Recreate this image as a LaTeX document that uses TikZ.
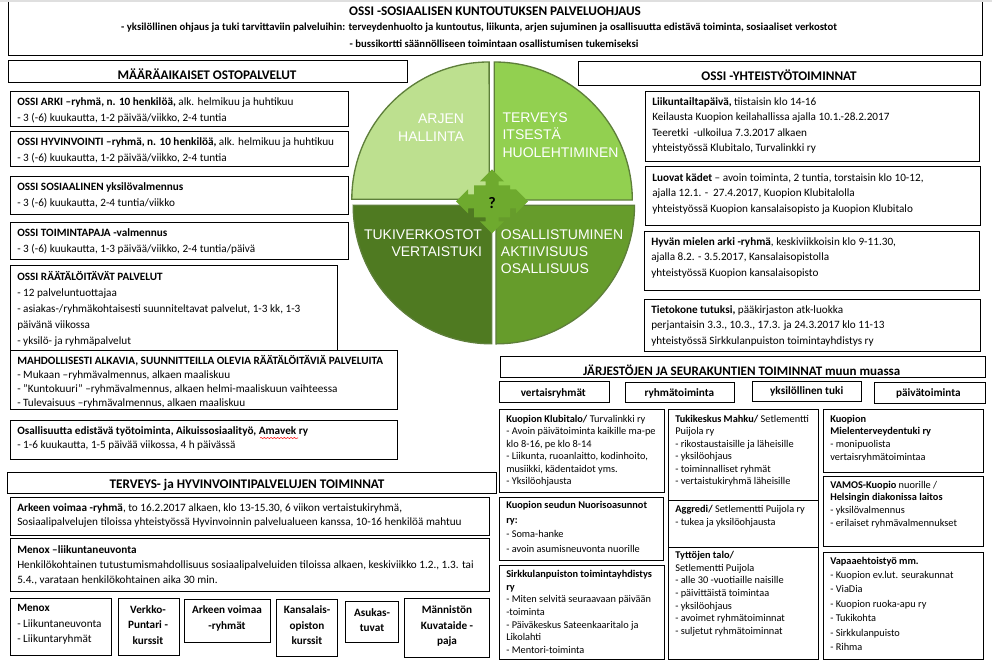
\documentclass[tikz,border=0pt]{standalone}
\usepackage{fontspec}
\setmainfont{Carlito}
\newfontfamily\quadfont{Liberation Sans}
\usetikzlibrary{decorations.pathmorphing}
\definecolor{quadA}{HTML}{BDE08F}
\definecolor{quadB}{HTML}{92D050}
\definecolor{quadC}{HTML}{4F7A21}
\definecolor{quadD}{HTML}{669C2B}
\definecolor{quadrim}{HTML}{5E7F3A}
\definecolor{puzzle}{HTML}{6EAA2E}
\tikzset{
  boxline/.style={draw=black,line width=0.75pt},
  txt/.style={anchor=north west,inner sep=0pt,align=left,font=\fontsize{8.4}{#1}\selectfont},
  txtsmall/.style={anchor=north west,inner sep=0pt,align=left,font=\fontsize{7.75}{#1}\selectfont},
  ctxt/.style={anchor=north,inner sep=0pt,align=center,font=\bfseries\fontsize{8.4}{#1}\selectfont},
  head/.style={anchor=center,inner sep=0pt,font=\bfseries\fontsize{9.9}{12}\selectfont},
  lead/.style={anchor=center,inner sep=0pt,font=\bfseries\fontsize{8.05}{10}\selectfont},
  tab/.style={anchor=center,inner sep=0pt,font=\bfseries\fontsize{8.4}{10}\selectfont},
  quad/.style={draw=quadrim,line width=1pt},
  quadtxt/.style={inner sep=0pt,text=white,font=\quadfont\fontsize{10.5}{13}\selectfont}
}
\begin{document}
\begin{tikzpicture}[x=0.75pt,y=-0.75pt]
  \useasboundingbox (0,0) rectangle (992,662);
  \fill[gray!25] (0,0) rectangle (992,1.5);
  \draw[boxline] (8,2) -- (8,55) -- (982,55) -- (982,2);
  \node[head] (ossititle) at (495,11) {OSSI -SOSIAALISEN KUNTOUTUKSEN PALVELUOHJAUS};
  \node[lead] (ossiline) at (479,28) {- yksilöllinen ohjaus ja tuki tarvittaviin palveluihin: terveydenhuolto ja kuntoutus, liikunta, arjen sujuminen ja osallisuutta edistävä toiminta, sosiaaliset verkostot};
  \node[lead] (ossibus) at (494,44) {- bussikortti säännölliseen toimintaan osallistumisen tukemiseksi};

  \draw[boxline] (8,60.5) rectangle (407.5,82);
  \node[head] (ostot) at (207,74) {MÄÄRÄAIKAISET OSTOPALVELUT};
  \draw[boxline] (10.5,91.5) rectangle (348,126);
  \node[txt=12] (arki) at (17,97) {\textbf{OSSI ARKI –ryhmä, n. 10 henkilöä,} alk. helmikuu ja huhtikuu\\- 3 (-6) kuukautta, 1-2 päivää/viikko, 2-4 tuntia};
  \draw[boxline] (10.5,131.5) rectangle (348,166);
  \node[txt=12] (hyvinvointi) at (17,137) {\textbf{OSSI HYVINVOINTI –ryhmä, n. 10 henkilöä,} alk. helmikuu ja huhtikuu\\- 3 (-6) kuukautta, 1-2 päivää/viikko, 2-4 tuntia};
  \draw[boxline] (10.5,176.5) rectangle (348,214);
  \node[txt=12] (sosiaalinen) at (17,182) {\textbf{OSSI SOSIAALINEN yksilövalmennus}\\- 3 (-6) kuukautta, 2-4 tuntia/viikko};
  \draw[boxline] (10.5,222) rectangle (348,259.3);
  \node[txt=12] (toimintapaja) at (17,228) {\textbf{OSSI TOIMINTAPAJA -valmennus}\\- 3 (-6) kuukautta, 1-3 päivää/viikko, 2-4 tuntia/päivä};
  \draw[boxline] (10,265.7) rectangle (337.7,350);
  \node[txt=12] (raatalo) at (17,271.5) {\textbf{OSSI RÄÄTÄLÖITÄVÄT PALVELUT}\\- 12 palveluntuottajaa\\- asiakas-/ryhmäkohtaisesti suunniteltavat palvelut, 1-3 kk, 1-3\\päivänä viikossa\\- yksilö- ja ryhmäpalvelut};
  \draw[boxline] (10,350) rectangle (397.7,409.5);
  \node[txt=10.5] (mahdolliset) at (17,355.5) {\textbf{MAHDOLLISESTI ALKAVIA, SUUNNITTEILLA OLEVIA RÄÄTÄLÖITÄVIÄ PALVELUITA}\\- Mukaan –ryhmävalmennus, alkaen maaliskuu\\- ”Kuntokuuri” –ryhmävalmennus, alkaen helmi-maaliskuun vaihteessa\\- Tulevaisuus –ryhmävalmennus, alkaen maaliskuu};
  \draw[boxline] (10,420.3) rectangle (397.7,459);
  \node[txt=10.5] (tyotoiminta) at (17,426.5) {\textbf{Osallisuutta edistävä työtoiminta, Aikuissosiaalityö, Amavek ry}\\- 1-6 kuukautta, 1-5 päivää viikossa, 4 h päivässä};
  \draw[red,decorate,decoration={snake,amplitude=0.4pt,segment length=2.5pt}] (260,438) -- (298,438);

  \draw[boxline] (7.3,472.3) rectangle (496.7,493.3);
  \node[head] (terveys) at (247,485) {TERVEYS- ja HYVINVOINTIPALVELUJEN TOIMINNAT};
  \draw[boxline] (10,497.3) rectangle (489.7,535);
  \node[txt=10.5] (voimaa) at (17,503) {\textbf{Arkeen voimaa -ryhmä}, to 16.2.2017 alkaen, klo 13-15.30, 6 viikon vertaistukiryhmä,\\Sosiaalipalvelujen tiloissa yhteistyössä Hyvinvoinnin palvelualueen kanssa, 10-16 henkilöä mahtuu};
  \draw[boxline] (10,538.3) rectangle (489.7,591.7);
  \node[txt=11.2] (menox) at (17,545) {\textbf{Menox –liikuntaneuvonta}\\Henkilökohtainen tutustumismahdollisuus sosiaalipalveluiden tiloissa alkaen, keskiviikko 1.2., 1.3. tai\\5.4., varataan henkilökohtainen aika 30 min.};
  \draw[boxline] (10,598.3) rectangle (111.3,655);
  \node[txt=11.7] (menoxpieni) at (17,604) {\textbf{Menox}\\- Liikuntaneuvonta\\- Liikuntaryhmät};
  \draw[boxline] (118.3,598.3) rectangle (179.7,655);
  \node[ctxt=11.7] (verkko) at (148,605) {Verkko-\\Puntari -\\kurssit};
  \draw[boxline] (184.3,599) rectangle (270.3,642.3);
  \node[ctxt=12] (ryhmat) at (227,605.5) {Arkeen voimaa\\-ryhmät};
  \draw[boxline] (276.3,599.7) rectangle (337.7,656.7);
  \node[ctxt=11.7] (kansalais) at (307,605.5) {Kansalais-\\opiston\\kurssit};
  \draw[boxline] (345.3,601.7) rectangle (398.7,642.7);
  \node[ctxt=11.5] (asukas) at (372,608) {Asukas-\\tuvat};
  \draw[boxline] (404.3,598.3) rectangle (489.3,657);
  \node[ctxt=11.7] (kuvataide) at (447,605.5) {Männistön\\Kuvataide -\\paja};

  \draw[quad,fill=quadA] (489.3,199.3) -- (351.8,199.3) arc[start angle=180,end angle=90,radius=103pt] -- cycle;
  \draw[quad,fill=quadB] (494.3,200) -- (494.3,62) arc[start angle=90,end angle=0,radius=103.5pt] -- cycle;
  \draw[quad,fill=quadD] (496,205.3) -- (634.5,205.3) arc[start angle=0,end angle=-90,radius=103.9pt] -- cycle;
  \draw[quad,fill=quadC] (491.7,205.3) -- (491.7,343.8) arc[start angle=-90,end angle=-180,radius=103.9pt] -- cycle;
  \node[quadtxt,anchor=north east,align=right] (arjen) at (464.3,114) {ARJEN\\HALLINTA};
  \node[quadtxt,anchor=north west,align=left] (itsesta) at (502.3,112.5) {TERVEYS\\ITSESTÄ\\HUOLEHTIMINEN};
  \node[quadtxt,anchor=north east,align=right] (tukiverkko) at (482.3,229) {TUKIVERKOSTOT\\VERTAISTUKI};
  \node[quadtxt,anchor=north west,align=left] (osallistuminen) at (500.7,229) {OSALLISTUMINEN\\AKTIIVISUUS\\OSALLISUUS};
  \fill[puzzle,shift={(492,201.3)}] (0,-32) -- (12,-20) -- (6.5,-20) -- (6.5,-16) -- (18,-16) -- (18,-12) -- (24,-12) -- (24,-12) -- (36,0) -- (24,12) -- (24,7) -- (18,7) -- (18,16) -- (6.5,16) -- (6.5,20) -- (12,20) -- (0,32) -- (-12,20) -- (-6.5,20) -- (-6.5,16) -- (-18,16) -- (-18,7) -- (-24,7) -- (-24,12) -- (-36,0) -- (-24,-12) -- (-24,-7) -- (-18,-7) -- (-18,-16) -- (-6.5,-16) -- (-6.5,-20) -- (-12,-20) -- cycle;
  \node[anchor=center,inner sep=0pt,font=\bfseries\fontsize{12}{14}\selectfont] (kysymys) at (492,203) {?};

  \draw[boxline] (578,61.7) rectangle (980,85);
  \node[head] (yhteistyo) at (779,75) {OSSI -YHTEISTYÖTOIMINNAT};
  \draw[boxline] (645.7,91.7) rectangle (979.3,161.7);
  \node[txt=11.7] (liikunta) at (652,97) {\textbf{Liikuntailtapäivä,} tiistaisin klo 14-16\\Keilausta Kuopion keilahallissa ajalla 10.1.-28.2.2017\\Teeretki \ -ulkoilua 7.3.2017 alkaen\\yhteistyössä Klubitalo, Turvalinkki ry};
  \draw[boxline] (645.3,166.7) rectangle (980.3,225.7);
  \node[txt=11.7] (luovat) at (652,173) {\textbf{Luovat kädet} – avoin toiminta, 2 tuntia, torstaisin klo 10-12,\\ajalla 12.1. - \ 27.4.2017, Kuopion Klubitalolla\\yhteistyössä Kuopion kansalaisopisto ja Kuopion Klubitalo};
  \draw[boxline] (644,231.7) rectangle (979.7,290);
  \node[txt=11.7] (mieli) at (651,237) {\textbf{Hyvän mielen arki -ryhmä}, keskiviikkoisin klo 9-11.30,\\ajalla 8.2. - 3.5.2017, Kansalaisopistolla\\yhteistyössä Kuopion kansalaisopisto};
  \draw[boxline] (644.7,299.3) rectangle (980,351);
  \node[txt=11.7] (tietokone) at (651,305) {\textbf{Tietokone tutuksi,} pääkirjaston atk-luokka\\perjantaisin 3.3., 10.3., 17.3. ja 24.3.2017 klo 11-13\\yhteistyössä Sirkkulanpuiston toimintayhdistys ry};

  \draw[boxline] (500.7,356.7) rectangle (985,377.3);
  \node[head,font=\bfseries\fontsize{9.75}{12}\selectfont] (jarjestot) at (741.7,370) {JÄRJESTÖJEN JA SEURAKUNTIEN TOIMINNAT muun muassa};
  \draw[boxline] (499.3,381.7) rectangle (609,402.3);
  \node[tab] (vertais) at (553.3,393) {vertaisryhmät};
  \draw[boxline] (625.3,382) rectangle (734.3,402.7);
  \node[tab] (ryhmatoiminta) at (679.3,393) {ryhmätoiminta};
  \draw[boxline] (752.3,381.7) rectangle (861.7,401.7);
  \node[tab] (yksilollinen) at (806.7,391) {yksilöllinen tuki};
  \draw[boxline] (874.3,382.7) rectangle (985,403);
  \node[tab] (paivatoiminta) at (928.3,393) {päivätoiminta};

  \draw[boxline] (499.3,409.3) rectangle (664,492.7);
  \node[txtsmall=9.4] (klubitalo) at (506,414.5) {\textbf{Kuopion Klubitalo/} Turvalinkki ry\\- Avoin päivätoiminta kaikille ma-pe\\klo 8-16, pe klo 8-14\\- Liikunta, ruoanlaitto, kodinhoito,\\musiikki, kädentaidot yms.\\- Yksilöohjausta};
  \draw[boxline] (499.3,497.3) rectangle (663,560.7);
  \node[txtsmall=11] (nuoriso) at (506,501) {\textbf{Kuopion seudun Nuorisoasunnot}\\\textbf{ry:}\\- Soma-hanke\\- avoin asumisneuvonta nuorille};
  \draw[boxline] (499.3,565.3) rectangle (664,659.3);
  \node[txtsmall=9.5] (sirkku) at (506,570) {\textbf{Sirkkulanpuiston toimintayhdistys}\\\textbf{ry}\\- Miten selvitä seuraavaan päivään\\-toiminta\\- Päiväkeskus Sateenkaaritalo ja\\Likolahti\\- Mentori-toiminta};
  \draw[boxline] (668.7,409.3) rectangle (818.3,500);
  \node[txtsmall=9.4] (mahku) at (675,414.5) {\textbf{Tukikeskus Mahku/} Setlementti\\Puijola ry\\- rikostaustaisille ja läheisille\\- yksilöohjaus\\- toiminnalliset ryhmät\\- vertaistukiryhmä läheisille};
  \draw[boxline] (668.7,500) rectangle (818.3,547.3);
  \node[txtsmall=10] (aggredi) at (675,504.5) {\textbf{Aggredi/} Setlementti Puijola ry\\- tukea ja yksilöohjausta};
  \draw[boxline] (668.7,547.3) rectangle (818.3,659.3);
  \node[txtsmall=9.5] (tyttojen) at (675,551) {\textbf{Tyttöjen talo/}\\Setlementti Puijola\\- alle 30 -vuotiaille naisille\\- päivittäistä toimintaa\\- yksilöohjaus\\- avoimet ryhmätoiminnat\\- suljetut ryhmätoiminnat};
  \draw[boxline] (823.7,409.3) rectangle (983.3,472.7);
  \node[txtsmall=9.5] (mielenterveys) at (830,414.5) {\textbf{Kuopion}\\\textbf{Mielenterveydentuki ry}\\- monipuolista\\vertaisryhmätoimintaa};
  \draw[boxline] (823.7,476.7) rectangle (983.3,546);
  \node[txtsmall=9.7] (vamos) at (830,480.5) {\textbf{VAMOS-Kuopio} nuorille /\\\textbf{Helsingin diakonissa laitos}\\- yksilövalmennus\\- erilaiset ryhmävalmennukset};
  \draw[boxline] (823.7,552.7) rectangle (983.3,659.3);
  \node[txtsmall=10.8] (vapaa) at (830,556.5) {\textbf{Vapaaehtoistyö mm.}\\- Kuopion ev.lut. seurakunnat\\- ViaDia\\- Kuopion ruoka-apu ry\\- Tukikohta\\- Sirkkulanpuisto\\- Rihma};
\end{tikzpicture}
\end{document}
